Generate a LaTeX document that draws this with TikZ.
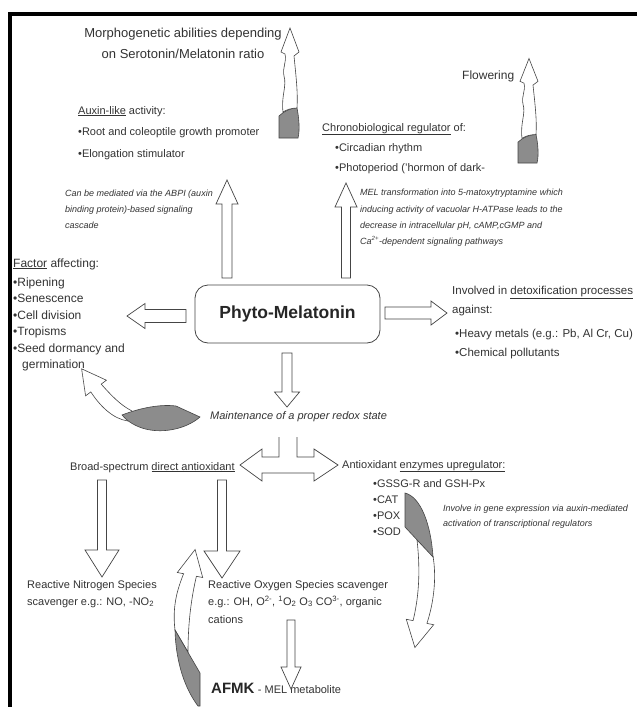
\documentclass[tikz,border=0pt]{standalone}
\usepackage{fontspec}
\setmainfont{Liberation Sans}
\usetikzlibrary{calc,positioning}

\definecolor{txtgray}{HTML}{333333}
\definecolor{linegray}{HTML}{454545}
\definecolor{tailgray}{HTML}{8C8C8C}

\tikzset{
  txt/.style={text=txtgray, inner sep=0pt, anchor=base west, font=\fontsize{11}{13}\selectfont},
  big/.style={txt, font=\fontsize{13}{15}\selectfont},
  mid/.style={txt, font=\fontsize{12}{14}\selectfont},
  note/.style={txt, font=\fontsize{9}{11}\selectfont\itshape},
  hollow/.style={draw=linegray, fill=white, line width=0.7pt, line join=miter},
  twistline/.style={draw=linegray, fill=white, line width=0.6pt},
  twistfill/.style={draw=linegray, fill=tailgray, line width=0.6pt},
  twistup/.pic={
    \draw[twistfill] (0,0) -- (0,-22) .. controls (5,-27) and (12,-30) .. (18,-30)
      .. controls (20,-20) and (21,-8) .. (19,0) -- cycle;
    \draw[twistline] (4,-26) .. controls (2,-42) and (8,-52) .. (5,-62)
      .. controls (3,-70) and (8,-76) .. (6,-84) -- (2,-86) -- (11,-110) -- (20,-86) -- (15,-82)
      .. controls (17,-62) and (19,-45) .. (18,-30) .. controls (12,-30) and (7,-28) .. (4,-26) -- cycle;
  }
}

% hollow block arrow: shaft half width, head half width, head length, from, to
\newcommand{\hollowarrow}[5]{%
  \draw[hollow] let \p1=($(#5)-(#4)$), \n1={atan2(\y1,\x1)}, \n2={veclen(\x1,\y1)} in
    [shift={(#4)}, rotate=\n1]
    (0,-#1) -- (\n2-#3,-#1) -- (\n2-#3,-#2) -- (\n2,0) -- (\n2-#3,#2) -- (\n2-#3,#1) -- (0,#1) -- cycle;}

\begin{document}
\begin{tikzpicture}[x=1pt, y=-1pt]
\fill[white] (0,0) rectangle (637,707);
\useasboundingbox (0,0) rectangle (637,707);
\fill[black] (8,12) rectangle (12,707);
\fill[black] (8,12) rectangle (637,16);

% centre
\node[draw=linegray, line width=0.8pt, rounded corners=13pt, minimum width=185pt, minimum height=58pt,
  font=\fontsize{17.5}{20}\selectfont\bfseries, text=black!85] (pm) at (287.5,314) {Phyto-Melatonin};

% top left
\node[big, anchor=base] (morph1) at (183,37) {Morphogenetic abilities depending};
\node[big, anchor=base] (morph2) at (183,58) {on Serotonin/Melatonin ratio};
\node[txt] (aux0) at (78,114) {\underline{Auxin-like} activity:};
\node[txt] (aux1) at (78,135) {•Root and coleoptile growth promoter};
\node[txt] (aux2) at (78,157) {•Elongation stimulator};
\node[note] (abp0) at (65,196) {Can be mediated via the ABPI (auxin};
\node[note] (abp1) at (65,212) {binding protein)-based signaling};
\node[note] (abp2) at (65,228) {cascade};

% top right
\node[mid] (flower) at (462,79) {Flowering};
\node[txt] (chr0) at (322,131) {\underline{Chronobiological regulator} of:};
\node[txt] (chr1) at (335,151) {•Circadian rhythm};
\node[txt] (chr2) at (335,171) {•Photoperiod ('hormon of dark-};
\node[note] (mel0) at (360,195) {MEL transformation into 5-matoxytryptamine which};
\node[note] (mel1) at (360,212) {inducing activity of vacuolar H-ATPase leads to the};
\node[note] (mel2) at (360,228) {decrease in intracellular pH, cAMP,cGMP and};
\node[note] (mel3) at (360,244) {Ca\textsuperscript{2+}-dependent signaling pathways};

% left
\node[mid] (fac0) at (13,267) {\underline{Factor} affecting:};
\node[mid] (fac1) at (13,286) {•Ripening};
\node[mid] (fac2) at (13,302) {•Senescence};
\node[mid] (fac3) at (13,319) {•Cell division};
\node[mid] (fac4) at (13,335) {•Tropisms};
\node[mid] (fac5) at (13,352) {•Seed dormancy and};
\node[mid] (fac6) at (22,368) {germination};

% right
\node[txt, font=\fontsize{11.5}{13}\selectfont] (det0) at (452,294) {Involved in \underline{detoxification processes}};
\node[txt, font=\fontsize{11.5}{13}\selectfont] (det1) at (452,313) {against:};
\node[txt, font=\fontsize{11.5}{13}\selectfont] (det2) at (455,337) {•Heavy metals (e.g.: Pb, Al Cr, Cu)};
\node[txt, font=\fontsize{11.5}{13}\selectfont] (det3) at (455,356) {•Chemical pollutants};

% redox
\node[txt, font=\fontsize{11}{13}\selectfont\itshape] (maint) at (210,419) {Maintenance of a proper redox state};
\node[txt] (broad) at (70,470) {Broad-spectrum \underline{direct antioxidant}};
\node[txt] (enz0) at (342,468) {Antioxidant \underline{enzymes upregulator:}};
\node[txt] (enz1) at (373,487) {•GSSG-R and GSH-Px};
\node[txt] (enz2) at (373,503) {•CAT};
\node[txt] (enz3) at (373,519) {•POX};
\node[txt] (enz4) at (373,535) {•SOD};
\node[note] (gene0) at (443,511) {Involve in gene expression via auxin-mediated};
\node[note] (gene1) at (443,526) {activation of transcriptional regulators};

% bottom
\node[txt] (rns0) at (27,588) {Reactive Nitrogen Species};
\node[txt] (rns1) at (27,605) {scavenger e.g.: NO, -NO\textsubscript{2}};
\node[txt] (ros0) at (208,588) {Reactive Oxygen Species scavenger};
\node[txt] (ros1) at (208,605) {e.g.: OH, O\textsuperscript{2-}, \textsuperscript{1}O\textsubscript{2} O\textsubscript{3} CO\textsuperscript{3-}, organic};
\node[txt] (ros2) at (208,623) {cations};
\node[txt, font=\fontsize{15}{17}\selectfont\bfseries, text=black!85] (afmk) at (211,693) {AFMK};
\node[txt, right=3pt of afmk.base east, anchor=base west] (metab) {- MEL metabolite};

% arrow ends
\coordinate (upL0) at (227,278);  \coordinate (upL1) at (227,180);
\coordinate (upR0) at (346,278);  \coordinate (upR1) at (346,183);
\coordinate (lf0) at (186,316);   \coordinate (lf1) at (127,316);
\coordinate (rt0) at (385,313);   \coordinate (rt1) at (447,313);
\coordinate (dn0) at (287,353);   \coordinate (dn1) at (287,407);
\coordinate (nL0) at (102,480);   \coordinate (nL1) at (102,577);
\coordinate (nM0) at (222,480);   \coordinate (nM1) at (222,578);
\coordinate (nA0) at (291,620);   \coordinate (nA1) at (291,689);
\coordinate (split) at (288,437);

\hollowarrow{5}{11}{24}{upL0}{upL1}
\hollowarrow{4.5}{11}{24}{upR0}{upR1}
\hollowarrow{6.5}{12.5}{18}{lf0}{lf1}
\hollowarrow{6}{12}{16}{rt0}{rt1}
\hollowarrow{5}{12.5}{15}{dn0}{dn1}
\hollowarrow{4.5}{17}{27}{nL0}{nL1}
\hollowarrow{4.5}{18}{27}{nM0}{nM1}
\hollowarrow{4}{10}{22}{nA0}{nA1}

\draw[hollow, shift={(split)}] (-9,0) -- (-9,20) -- (-26,20) -- (-26,12) -- (-48,28) -- (-26,44) -- (-26,36)
  -- (26,36) -- (26,44) -- (50,28) -- (26,12) -- (26,20) -- (9,20) -- (9,0);

% twisted arrows
\pic at (279,138) {twistup};
\pic[yscale=0.95] at (518,163) {twistup};

\draw[twistline] (90.8,391.9) .. controls (100,406) and (113,419) .. (128,421) -- (132,411)
  .. controls (120,405) and (110,394) .. (101.2,384.1) -- (106.4,380.2) -- (81.6,368.8) -- (85.6,395.8) -- cycle;
\draw[twistfill] (122,415) .. controls (140,408) and (160,404) .. (176,406) -- (200,417)
  .. controls (185,430) and (160,434) .. (142,428) .. controls (133,425) and (126,420) .. (122,415) -- cycle;

\draw[twistline] (433,556) .. controls (437,580) and (433,605) .. (426.9,623.4) -- (433.7,624.7) -- (414.9,647.5)
  -- (406.3,619.3) -- (413.1,620.6) .. controls (418,600) and (421,575) .. (417,540) -- cycle;
\draw[twistfill] (405,493) .. controls (421,497) and (431,525) .. (433,557) -- (405,527) -- cycle;

\draw[twistline] (175,630) .. controls (172,605) and (178,588) .. (183.6,573.7) -- (177.3,572.5) -- (195.1,549.5)
  -- (202.7,577.5) -- (196.4,576.3) .. controls (192,595) and (188,620) .. (188,652) -- cycle;
\draw[twistfill] (175,630) .. controls (176,665) and (186,690) .. (198,706) -- (200,706) -- (200,673) -- cycle;
\end{tikzpicture}
\end{document}
